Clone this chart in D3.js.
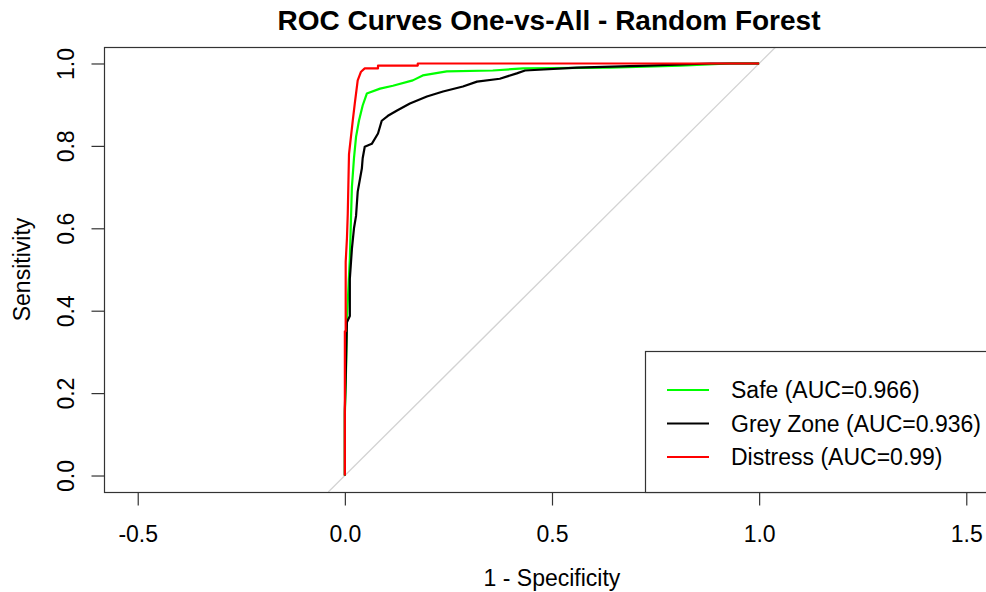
<!DOCTYPE html>
<html>
<head>
<meta charset="utf-8">
<script src="https://cdn.jsdelivr.net/npm/d3@7"></script>
<style>
  html, body { margin: 0; padding: 0; background: #fff; }
  svg { display: block; font-family: "Liberation Sans", Arial, sans-serif; }
</style>
</head>
<body>
<svg id="chart" width="986" height="592"></svg>
<script>
// ROC points (false positive rate, true positive rate) for each one-vs-all class
const safeFPR = [0, 0.000, 0.003, 0.005, 0.012, 0.017, 0.022, 0.027, 0.034, 0.043, 0.053, 0.085, 0.116, 0.164, 0.188, 0.246, 0.357, 0.430, 0.640, 0.810, 0.930, 1];
const safeTPR = [0, 0.150, 0.263, 0.380, 0.526, 0.700, 0.770, 0.822, 0.861, 0.898, 0.927, 0.939, 0.946, 0.959, 0.971, 0.981, 0.983, 0.988, 0.990, 0.995, 1.000, 1];

const greyFPR = [0, 0.000, 0.002, 0.005, 0.012, 0.012, 0.017, 0.022, 0.027, 0.031, 0.041, 0.043, 0.048, 0.065, 0.080, 0.089, 0.104, 0.126, 0.157, 0.198, 0.237, 0.285, 0.319, 0.374, 0.415, 0.435, 0.560, 0.729, 0.882, 1];
const greyTPR = [0, 0.160, 0.240, 0.372, 0.387, 0.477, 0.550, 0.600, 0.630, 0.689, 0.745, 0.770, 0.798, 0.805, 0.830, 0.861, 0.873, 0.886, 0.903, 0.920, 0.932, 0.944, 0.956, 0.963, 0.976, 0.983, 0.990, 0.995, 1.000, 1];

const distressFPR = [0, 0.000, 0.002, 0.002, 0.005, 0.007, 0.010, 0.019, 0.024, 0.031, 0.039, 0.048, 0.080, 0.080, 0.176, 0.176, 1];
const distressTPR = [0, 0.350, 0.350, 0.518, 0.575, 0.635, 0.780, 0.861, 0.903, 0.959, 0.980, 0.988, 0.988, 0.995, 0.995, 1.000, 1];

const seriesNames = ["Safe", "Grey Zone", "Distress"];
const seriesColors = ["#00ff00", "#000000", "#ff0000"];
const aucValues = [0.966, 0.936, 0.99];

const xTicks = [-0.5, 0, 0.5, 1, 1.5];
const yTicks = [0, 0.2, 0.4, 0.6, 0.8, 1];

const chartTitle = "ROC Curves One-vs-All - Random Forest";
const xLabel = "1 - Specificity";
const yLabel = "Sensitivity";

// Plot region (equal aspect, x range widened around 0.5)
const plot = { left: 104, top: 47, right: 1000, bottom: 492 };
const svg = d3.select("#chart");

const x = d3.scaleLinear().domain([-0.5814, 1.5814]).range([plot.left, plot.right]);
const y = d3.scaleLinear().domain([-0.04, 1.04]).range([plot.bottom, plot.top]);

svg.append("defs").append("clipPath").attr("id", "plotclip")
  .append("rect")
  .attr("x", plot.left).attr("y", plot.top)
  .attr("width", plot.right - plot.left).attr("height", plot.bottom - plot.top);

const fontSize = 23;

// Title
svg.append("text")
  .attr("x", (plot.left + plot.right) / 2 - 3)
  .attr("y", 20)
  .attr("text-anchor", "middle")
  .attr("dominant-baseline", "central")
  .attr("font-weight", "bold")
  .attr("font-size", 28)
  .attr("fill", "#000")
  .text(chartTitle);

const inner = svg.append("g").attr("clip-path", "url(#plotclip)");

// Chance diagonal
inner.append("line")
  .attr("x1", x(-0.04)).attr("y1", y(-0.04))
  .attr("x2", x(1.04)).attr("y2", y(1.04))
  .attr("stroke", "#d3d3d3")
  .attr("stroke-width", 1.3);

// ROC curves
const series = [
  { fpr: safeFPR, tpr: safeTPR },
  { fpr: greyFPR, tpr: greyTPR },
  { fpr: distressFPR, tpr: distressTPR }
];
const line = d3.line().x(d => x(d[0])).y(d => y(d[1]));
series.forEach((s, i) => {
  inner.append("path")
    .datum(s.fpr.map((f, k) => [f, s.tpr[k]]))
    .attr("d", line)
    .attr("fill", "none")
    .attr("stroke", seriesColors[i])
    .attr("stroke-width", 2.2)
    .attr("stroke-linejoin", "round");
});

// Plot box
svg.append("rect")
  .attr("x", plot.left + 0.5).attr("y", plot.top + 0.5)
  .attr("width", plot.right - plot.left).attr("height", plot.bottom - plot.top)
  .attr("fill", "none").attr("stroke", "#333").attr("stroke-width", 1.2);

// X axis
const xAxis = d3.axisBottom(x).tickValues(xTicks).tickSize(13).tickPadding(20)
  .tickFormat(d3.format(".1f"));
const gx = svg.append("g").attr("transform", `translate(0,${plot.bottom + 0.5})`).call(xAxis);
gx.select(".domain").remove();
gx.selectAll(".tick line").attr("stroke", "#333").attr("stroke-width", 1.2);
gx.selectAll(".tick text").attr("font-size", fontSize).attr("fill", "#000")
  .attr("font-family", "Liberation Sans, Arial, sans-serif")
  .text(d => d3.format(".1f")(d).replace("\u2212", "-"));

// Y axis (labels parallel to axis)
const yAxis = d3.axisLeft(y).tickValues(yTicks).tickSize(13).tickFormat(d3.format(".1f"));
const gy = svg.append("g").attr("transform", `translate(${plot.left + 0.5},0)`).call(yAxis);
gy.select(".domain").remove();
gy.selectAll(".tick line").attr("stroke", "#333").attr("stroke-width", 1.2);
gy.selectAll(".tick text")
  .attr("font-size", fontSize).attr("fill", "#000")
  .attr("font-family", "Liberation Sans, Arial, sans-serif")
  .attr("x", null).attr("dy", null)
  .attr("text-anchor", "middle")
  .attr("dominant-baseline", "central")
  .attr("transform", "translate(-39,0) rotate(-90)");

// Axis titles
svg.append("text")
  .attr("x", (plot.left + plot.right) / 2)
  .attr("y", 578)
  .attr("text-anchor", "middle")
  .attr("dominant-baseline", "central")
  .attr("font-size", fontSize)
  .attr("fill", "#000")
  .text(xLabel);

svg.append("text")
  .attr("transform", `translate(22,${(plot.top + plot.bottom) / 2}) rotate(-90)`)
  .attr("text-anchor", "middle")
  .attr("dominant-baseline", "central")
  .attr("font-size", fontSize)
  .attr("fill", "#000")
  .text(yLabel);

// Legend in the bottom-right corner of the plot
const legend = { left: 645, top: 351 };
svg.append("rect")
  .attr("x", legend.left + 0.5).attr("y", legend.top + 0.5)
  .attr("width", plot.right - legend.left).attr("height", plot.bottom - legend.top)
  .attr("fill", "#fff").attr("stroke", "#333").attr("stroke-width", 1.2);

const rowY = [390, 423.5, 457];
seriesNames.forEach((name, i) => {
  svg.append("line")
    .attr("x1", 667).attr("x2", 709)
    .attr("y1", rowY[i]).attr("y2", rowY[i])
    .attr("stroke", seriesColors[i]).attr("stroke-width", 2.2);
  svg.append("text")
    .attr("x", 731).attr("y", rowY[i])
    .attr("dominant-baseline", "central")
    .attr("font-size", fontSize)
    .attr("fill", "#000")
    .text(`${name} (AUC=${aucValues[i]})`);
});
</script>
</body>
</html>
